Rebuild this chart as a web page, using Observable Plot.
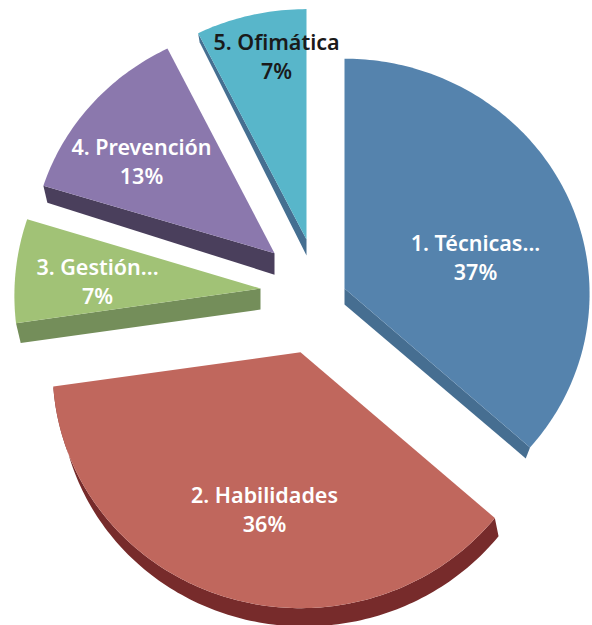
<!DOCTYPE html>
<html>
<head>
<meta charset="utf-8">
<script src="https://cdn.jsdelivr.net/npm/d3@7"></script>
<script src="https://cdn.jsdelivr.net/npm/@observablehq/plot@0.6"></script>
<style>html,body{margin:0;padding:0;background:#fff}svg{display:block}</style>
</head>
<body>
<div id="chart"></div>
<script>
// Chart data
const categories = ["1. Técnicas...", "2. Habilidades", "3. Gestión...", "4. Prevención", "5. Ofimática"];
const shares = [36.6, 36.1, 7.0, 12.9, 7.4];

// Styles
const topColors = ["#5583ad", "#c0675d", "#a1c276", "#8b78ad", "#58b6ca"];
const wallColors = ["#466e91", "#772b2b", "#748e5a", "#4a3f5c", "#456f91"];
const labelColors = ["#fff", "#fff", "#fff", "#fff", "#1a1a1a"];

// Exploded, tilted pie layout (per slice)
const apexX = [344, 300, 260, 274, 306];
const apexY = [288, 351.7, 288, 252.7, 239];
const radiusX = [245, 247, 246, 243, 246];
const radiusY = [235, 236, 240, 233, 235];
const tilt = [0.0225, 0.078, 0.03, 0.02, 0.02];
const labelX = [475, 264, 97, 141, 276];
const labelY = [256, 508, 280, 160, 55];
// Wall depth at the slice's apex and at its arc corner
const depthApex = [[0, 16], null, [0, 21], [0, 21.5], [0, 16]];
const depthCorner = [[-4.3, 11], [3.7, 18.3], [4.7, 19.7], [4, 17], [1.5, 9]];
const wallAtEnd = [true, false, false, false, false];
const outerWallLean = 3;

const total = d3.sum(shares);
const cum = d3.cumsum(shares);
const startDeg = i => (i === 0 ? 0 : cum[i - 1]) / total * 360;
const endDeg = i => cum[i] / total * 360;

function rimPoint(i, deg) {
  const t = deg * Math.PI / 180;
  const s = 1 / (1 + tilt[i] * Math.cos(t));
  return {x: apexX[i] + radiusX[i] * Math.sin(t) * s, y: apexY[i] - radiusY[i] * Math.cos(t) * s, deg};
}
function rim(i) {
  const a = startDeg(i), b = endDeg(i), n = Math.ceil(b - a);
  return d3.range(n + 1).map(k => rimPoint(i, a + (b - a) * k / n));
}
const apex = i => ({x: apexX[i], y: apexY[i]});
const shift = (p, d) => ({x: p.x + d[0], y: p.y + d[1]});

const surfaces = categories.flatMap((category, i) =>
  [apex(i), ...rim(i), apex(i)].map(p => ({...p, category}))
);

function wall(i) {
  const r = rim(i);
  if (!depthApex[i]) {
    // outer curved wall: leans further right toward the left end of the arc
    const lower = p => shift(p, [depthCorner[i][0] + outerWallLean * Math.max(0, (p.deg - 180) / 82), depthCorner[i][1]]);
    return [...r, ...r.slice().reverse().map(lower)];
  }
  const corner = wallAtEnd[i] ? r[r.length - 1] : r[0];
  return [apex(i), corner, shift(corner, depthCorner[i]), shift(apex(i), depthApex[i])];
}

const labels = categories.map((category, i) => ({
  text: category + "\n" + Math.round(shares[i]) + "%",
  x: labelX[i], y: labelY[i], color: labelColors[i]
}));
const textStyle = {
  x: "x", y: "y", text: "text", fontFamily: "'Noto Sans', sans-serif",
  fontWeight: 600, fontSize: 21.5, lineHeight: 1.33, textAnchor: "middle"
};

const chart = Plot.plot({
  width: 592, height: 625, margin: 0,
  x: {domain: [0, 592], range: [0, 592], axis: null},
  y: {domain: [0, 625], range: [0, 625], axis: null},
  color: {domain: categories, range: topColors},
  marks: [
    ...categories.map((c, i) => Plot.line(wall(i), {x: "x", y: "y", fill: wallColors[i], stroke: "none", curve: "linear-closed"})),
    Plot.line(surfaces, {x: "x", y: "y", z: "category", fill: "category", stroke: "none", curve: "linear-closed"}),
    Plot.text(labels.filter(d => d.color === "#fff"), {...textStyle, fill: "#fff"}),
    Plot.text(labels.filter(d => d.color !== "#fff"), {...textStyle, fill: labelColors[4]})
  ]
});
document.getElementById("chart").appendChild(chart);
</script>
</body>
</html>
